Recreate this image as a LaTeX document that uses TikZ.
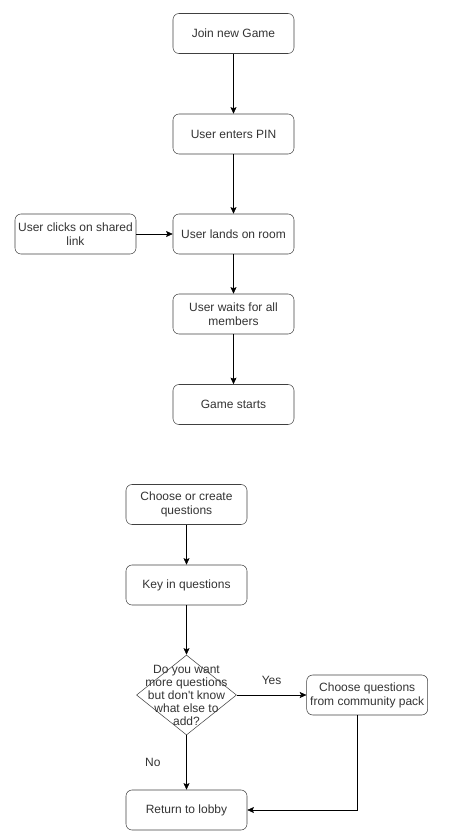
\documentclass[tikz,border=0pt]{standalone}
\usepackage{fontspec}
\setmainfont{Liberation Sans}
\usetikzlibrary{shapes.geometric,arrows.meta}
\begin{document}
\begin{tikzpicture}[x=0.75pt,y=-0.75pt]

    \tikzset{nodestyle/.style={draw=black!75,rounded corners=4.5pt,minimum width=90.75pt,minimum height=30pt,inner sep=1pt,align=center,text=black!80,font=\fontsize{9}{10.5}\selectfont}}
    \tikzset{decisionstyle/.style={draw=black!75,shape=diamond,minimum width=75pt,minimum height=60pt,inner sep=0pt}}
    \useasboundingbox (0,0) rectangle (451,840);

    \node[nodestyle] (join) at (233.5, 33.5) {Join new Game};
    \node[nodestyle] (pin) at (233.5, 134) {User enters PIN};
    \node[nodestyle] (room) at (233.5, 234) {User lands on room};
    \node[nodestyle] (link) at (75.5, 234) {User clicks on shared\\link};
    \node[nodestyle] (wait) at (233.5, 314) {User waits for all\\members};
    \node[nodestyle] (start) at (233.5, 404.5) {Game starts};

    \node[nodestyle] (choose) at (186.5, 504.5) {Choose or create\\questions};
    \node[nodestyle] (key) at (186.5, 585) {Key in questions};
    \node[decisionstyle,label={[align=center,text=black!80,font=\fontsize{9}{9.75}\selectfont]center:{Do you want\\more questions\\but don\textquotesingle t know\\what else to\\add?}}] (more) at (186.5, 695) {};
    \node[nodestyle] (pack) at (367.2, 695) {Choose questions\\from community pack};
    \node[nodestyle] (lobby) at (186.5, 810) {Return to lobby};

    \begin{scope}[every path/.style={-{Stealth[length=5pt,width=4.5pt,inset=1pt]},thin}]
        \draw (join) -- (pin);
        \draw (pin) -- (room);
        \draw (link) -- (room);
        \draw (room) -- (wait);
        \draw (wait) -- (start);

        \draw (choose) -- (key);
        \draw (key) -- (more);
        \draw (more) -- (pack) node[midway,above=4pt,text=black!80,font=\fontsize{9}{10.5}\selectfont]{Yes};
        \draw (more) -- (lobby) node[midway,left=16pt,text=black!80,font=\fontsize{9}{10.5}\selectfont]{No};
        \draw ([xshift=-7.5pt]pack.south) |- (lobby);
    \end{scope}

\end{tikzpicture}
\end{document}
